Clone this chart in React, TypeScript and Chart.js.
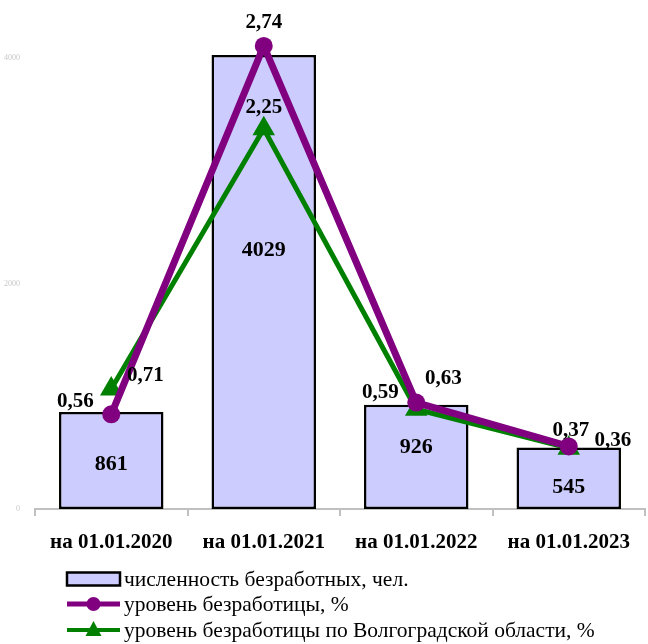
import React, { useEffect, useRef } from "react";
import { Chart, registerables } from "chart.js";

Chart.register(...registerables);

const categories = ["на 01.01.2020", "на 01.01.2021", "на 01.01.2022", "на 01.01.2023"];
const unemployedCount = [861, 4029, 926, 545];
const unemploymentRate = [0.56, 2.74, 0.63, 0.37];
const regionRate = [0.71, 2.25, 0.59, 0.36];
const leftTicks = [0, 2000, 4000];
const legendLabels = [
  "численность безработных, чел.",
  "уровень безработицы, %",
  "уровень безработицы по Волгоградской области, %",
];

const SERIF = "'Liberation Serif', 'Times New Roman', serif";
const PURPLE = "#800080";
const GREEN = "#008000";
const BAR_FILL = "#ccccff";

// label placement offsets (px) relative to the mark
const barLabelOffsets = [4, -32, -10, 9];
const lineLabelOffsets: Record<number, [number, number][]> = {
  1: [[-36, -13], [0, -23], [27, -24], [2, -16]],
  2: [[34, -13], [0, -21], [-36, -17], [44, -8]],
};

const fmt = (v: number) => v.toFixed(2).replace(".", ",");

const labelsPlugin = {
  id: "valueLabels",
  afterDatasetsDraw(chart: any) {
    const ctx = chart.ctx;
    ctx.save();
    ctx.fillStyle = "#000";
    ctx.textAlign = "center";
    ctx.textBaseline = "middle";
    const barMeta = chart.getDatasetMeta(0);
    ctx.font = `bold 22px ${SERIF}`;
    barMeta.data.forEach((el: any, i: number) => {
      const v = chart.data.datasets[0].data[i];
      ctx.fillText(String(v), el.x, (el.y + el.base) / 2 + barLabelOffsets[i]);
    });
    ctx.font = `bold 21px ${SERIF}`;
    [1, 2].forEach((di) => {
      const meta = chart.getDatasetMeta(di);
      meta.data.forEach((el: any, i: number) => {
        const v = chart.data.datasets[di].data[i];
        const [dx, dy] = lineLabelOffsets[di][i];
        ctx.fillText(fmt(v), el.x + dx, el.y + dy);
      });
    });
    ctx.restore();
  },
};

const legendPlugin = {
  id: "customLegend",
  afterDraw(chart: any) {
    const ctx = chart.ctx;
    ctx.save();
    const x0 = 67;
    const w = 53;
    const tx = 124;
    const rows = [579, 604, 630];
    ctx.fillStyle = BAR_FILL;
    ctx.fillRect(x0, rows[0] - 6.5, w, 13);
    ctx.strokeStyle = "#000";
    ctx.lineWidth = 2.5;
    ctx.strokeRect(x0, rows[0] - 6.5, w, 13);
    ctx.strokeStyle = PURPLE;
    ctx.lineWidth = 5;
    ctx.beginPath();
    ctx.moveTo(x0, rows[1]);
    ctx.lineTo(x0 + w, rows[1]);
    ctx.stroke();
    ctx.fillStyle = PURPLE;
    ctx.beginPath();
    ctx.arc(x0 + w / 2, rows[1], 7, 0, Math.PI * 2);
    ctx.fill();
    ctx.strokeStyle = GREEN;
    ctx.lineWidth = 4;
    ctx.beginPath();
    ctx.moveTo(x0, rows[2]);
    ctx.lineTo(x0 + w, rows[2]);
    ctx.stroke();
    ctx.fillStyle = GREEN;
    const cx = x0 + w / 2;
    ctx.beginPath();
    ctx.moveTo(cx, rows[2] - 9);
    ctx.lineTo(cx + 8, rows[2] + 6);
    ctx.lineTo(cx - 8, rows[2] + 6);
    ctx.closePath();
    ctx.fill();
    ctx.fillStyle = "#000";
    ctx.font = `21.5px ${SERIF}`;
    ctx.textAlign = "left";
    ctx.textBaseline = "middle";
    legendLabels.forEach((t, i) => ctx.fillText(t, tx, rows[i] + 1));
    ctx.restore();
  },
};

export default function App() {
  const ref = useRef<HTMLCanvasElement | null>(null);

  useEffect(() => {
    if (!ref.current) return;
    const chart = new Chart(ref.current, {
      type: "bar",
      data: {
        labels: categories,
        datasets: [
          {
            type: "bar",
            label: legendLabels[0],
            data: unemployedCount,
            backgroundColor: BAR_FILL,
            borderColor: "#000",
            borderWidth: 2.5,
            borderSkipped: false,
            categoryPercentage: 1,
            barPercentage: 0.685,
            yAxisID: "y",
            order: 3,
          },
          {
            type: "line",
            label: legendLabels[1],
            data: unemploymentRate,
            borderColor: PURPLE,
            backgroundColor: PURPLE,
            borderWidth: 7,
            pointStyle: "circle",
            pointRadius: 9,
            pointBorderWidth: 0,
            tension: 0,
            yAxisID: "y1",
            order: 1,
          },
          {
            type: "line",
            label: legendLabels[2],
            data: regionRate,
            borderColor: GREEN,
            backgroundColor: GREEN,
            borderWidth: 5,
            pointStyle: "triangle",
            pointRadius: 13,
            pointBorderWidth: 0,
            tension: 0,
            yAxisID: "y1",
            order: 2,
          },
        ] as any,
      },
      options: {
        responsive: false,
        animation: false,
        devicePixelRatio: 1,
        layout: { autoPadding: false, padding: { left: 0, right: 3, top: 2, bottom: 0 } },
        plugins: {
          legend: { display: false },
          tooltip: { enabled: false },
          title: { display: false },
        },
        scales: {
          x: {
            offset: true,
            grid: {
              display: true,
              offset: true,
              drawOnChartArea: false,
              color: "#c0c0c0",
              lineWidth: 2,
              tickLength: 7,
            },
            border: { display: true, color: "#c0c0c0", width: 2 },
            ticks: {
              color: "#000",
              font: { family: SERIF, size: 21, weight: "bold" },
              padding: 14,
              maxRotation: 0,
            },
            afterFit: (s: any) => {
              s.height = 135;
              s.paddingLeft = 0;
              s.paddingRight = 0;
            },
          },
          y: {
            position: "left",
            min: 0,
            max: 4500,
            grid: { display: false },
            border: { display: false },
            ticks: {
              color: "#c8c8c8",
              font: { family: SERIF, size: 8 },
              padding: 7,
              callback: (v: any) => String(v),
            },
            afterBuildTicks: (s: any) => {
              s.ticks = leftTicks.map((v) => ({ value: v }));
            },
            afterFit: (s: any) => {
              s.width = 35;
              s.paddingTop = 0;
              s.paddingBottom = 0;
            },
          },
          y1: {
            display: false,
            position: "right",
            min: 0,
            max: 3,
          },
        },
      } as any,
      plugins: [labelsPlugin, legendPlugin],
    });
    return () => chart.destroy();
  }, []);

  return (
    <div style={{ position: "absolute", left: 0, top: 0, width: 648, height: 644, background: "#fff" }}>
      <canvas ref={ref} width={648} height={644} style={{ display: "block", width: 648, height: 644 }} />
    </div>
  );
}
